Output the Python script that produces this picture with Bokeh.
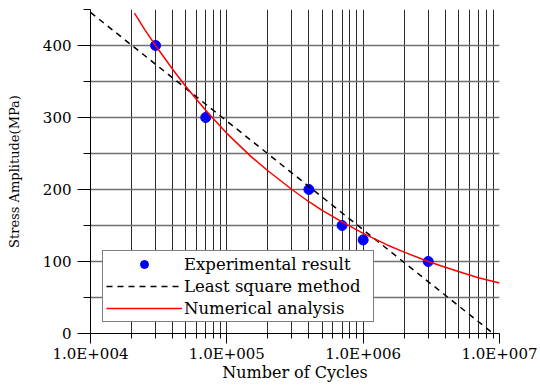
from bokeh.plotting import figure
from bokeh.models import FixedTicker, Legend, LegendItem
from bokeh.embed import file_html
from bokeh.resources import INLINE

# ---- data ----
exp_cycles = [3e4, 7e4, 4e5, 7e5, 1e6, 3e6]
exp_stress = [400, 300, 200, 150, 130, 100]

lsq_cycles = [1e4, 9e6]
lsq_stress = [446, 0]

num_cycles = [2.1e4, 2.5e4, 3e4, 4e4, 5e4, 6e4, 7e4, 8e4, 1e5, 1.5e5, 2e5, 3e5,
              4e5, 5e5, 7e5, 1e6, 1.5e6, 2e6, 3e6, 4e6, 5e6, 7e6, 1e7]
num_stress = [445, 422, 400, 367, 343, 325, 310, 298, 278, 246, 226, 200,
              183, 171, 155, 139, 123, 113, 100, 92, 86, 77.5, 70]

x_major = [1e4, 1e5, 1e6, 1e7]
x_labels = ["1.0E+004", "1.0E+005", "1.0E+006", "1.0E+007"]
x_minor = [m * d for d in (1e4, 1e5, 1e6) for m in range(2, 10)]
y_major = [0, 100, 200, 300, 400]
y_minor = [50, 150, 250, 350, 450]

FONT = "DejaVu Serif"

p = figure(width=540, height=385, x_axis_type="log",
           x_range=(1e4, 1e7), y_range=(0, 450),
           output_backend="svg", toolbar_location=None,
           min_border_left=90, min_border_right=41,
           min_border_top=9, min_border_bottom=52)
p.outline_line_color = None
p.background_fill_color = "white"

# axes / ticks
p.xaxis.ticker = FixedTicker(ticks=x_major, minor_ticks=x_minor)
p.xaxis.major_label_overrides = {v: s for v, s in zip(x_major, x_labels)}
p.yaxis.ticker = FixedTicker(ticks=y_major, minor_ticks=y_minor)

for ax in (p.xaxis[0], p.yaxis[0]):
    ax.axis_line_color = "black"
    ax.major_tick_line_color = "black"
    ax.minor_tick_line_color = "black"
    ax.major_tick_in = 0
    ax.minor_tick_in = 0
    ax.major_label_text_font = FONT
    ax.major_label_text_font_size = "15px"
    ax.major_label_text_color = "black"
    ax.axis_label_text_font = FONT
    ax.axis_label_text_font_style = "normal"
    ax.axis_label_text_color = "black"

p.xaxis.major_tick_out = 10
p.xaxis.minor_tick_out = 5
p.yaxis.major_tick_out = 13
p.yaxis.minor_tick_out = 7
p.xaxis.major_label_standoff = 1
p.yaxis.major_label_standoff = 6

p.xaxis.axis_label = "Number of Cycles"
p.xaxis.axis_label_text_font_size = "16px"
p.xaxis.axis_label_standoff = -3
p.yaxis.axis_label = "Stress Amplitude(MPa)"
p.yaxis.axis_label_text_font_size = "13px"
p.yaxis.axis_label_standoff = 18

# grids
p.xgrid.grid_line_color = "#2a2a2a"
p.xgrid.grid_line_width = 1
p.xgrid.minor_grid_line_color = "#2a2a2a"
p.xgrid.minor_grid_line_width = 1
p.ygrid.grid_line_color = "#707070"
p.ygrid.grid_line_width = 1.5
p.ygrid.minor_grid_line_color = "#707070"
p.ygrid.minor_grid_line_width = 1.5

# glyphs
r_exp = p.scatter(exp_cycles, exp_stress, size=10, color="#0000ff", marker="circle")
r_lsq = p.line(lsq_cycles, lsq_stress, line_color="black", line_width=1.5, line_dash="6 5")
r_num = p.line(num_cycles, num_stress, line_color="#ff0000", line_width=1.5)

legend = Legend(items=[
    LegendItem(label="Experimental result", renderers=[r_exp]),
    LegendItem(label="Least square method", renderers=[r_lsq]),
    LegendItem(label="Numerical analysis", renderers=[r_num]),
], location=(12, 11))
legend.border_line_color = "black"
legend.border_line_width = 1
legend.background_fill_color = "white"
legend.background_fill_alpha = 1
legend.label_text_font = FONT
legend.label_text_font_size = "16.5px"
legend.label_text_color = "black"
legend.glyph_width = 76
legend.glyph_height = 20
legend.label_height = 20
legend.label_width = 186
legend.label_standoff = 2
legend.padding = 3
legend.spacing = 2
legend.margin = 0
p.add_layout(legend)

open("out.html", "w").write(file_html(p, INLINE))
